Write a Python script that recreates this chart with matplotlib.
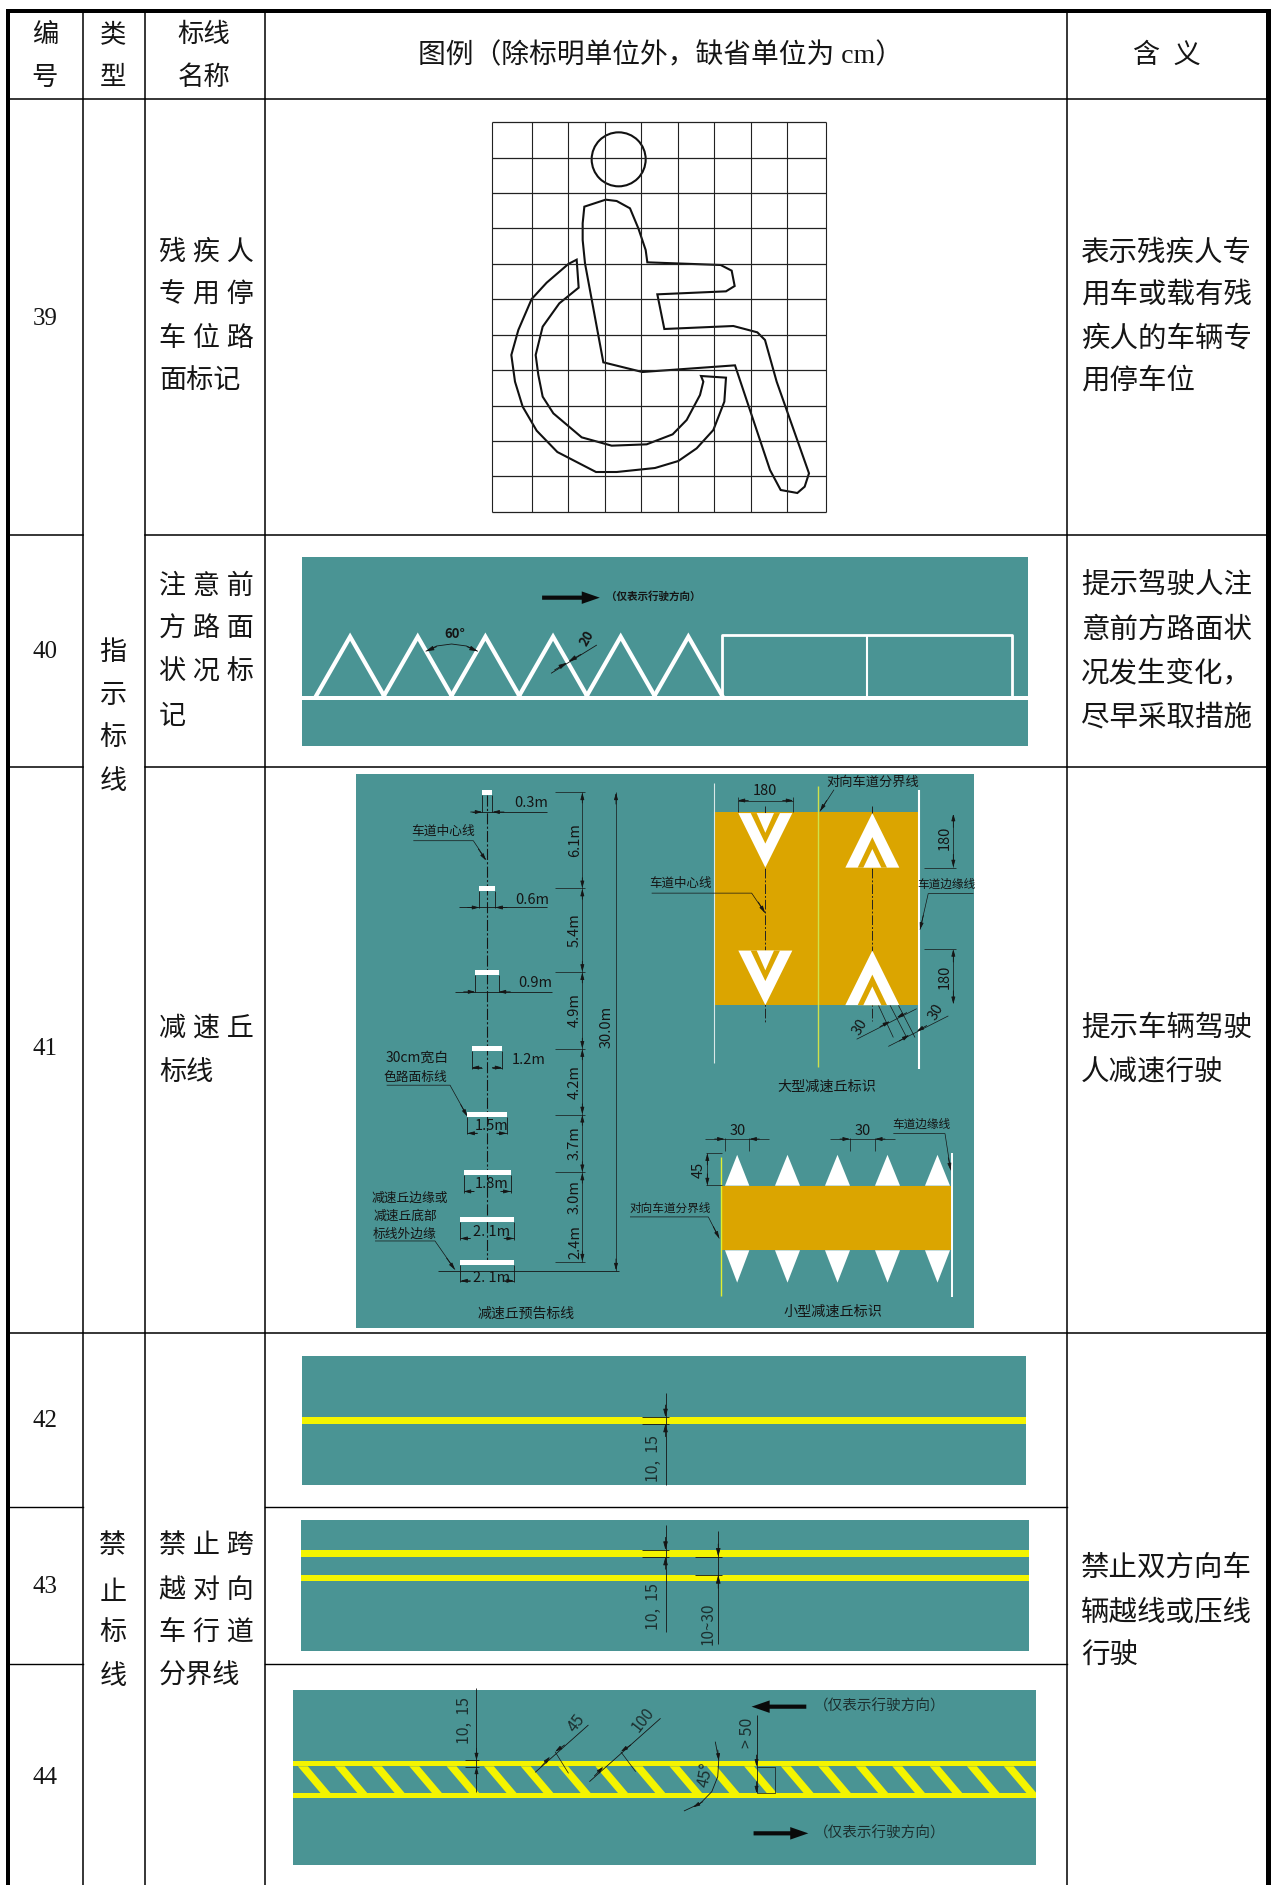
import matplotlib
matplotlib.use('Agg')
import matplotlib.pyplot as plt
from matplotlib.patches import Polygon, Rectangle, Circle

plt.rcParams['font.family'] = ['Liberation Serif', 'Noto Sans CJK SC', 'DejaVu Sans']
DRAW_FONT = ['Noto Sans CJK SC', 'DejaVu Sans']
NUM_FONT = ['Liberation Serif']

W, H = 1271, 1885
TEAL = '#4A9494'
ORANGE = '#DBA500'
YELLOW = '#F4F400'
INK = '#151515'

# table text
row_numbers = ['39', '40', '41', '42', '43', '44']
row_number_y = [319, 652, 1049, 1421, 1587, 1778]
header_cols = [(45, ['编', '号']), (113, ['类', '型']), (204, ['标线', '名称'])]
header_legend = '图例（除标明单位外，缺省单位为 cm）'
header_meaning = '含  义'
type_groups = [(['指', '示', '标', '线'], [653, 696, 738, 782]),
               (['禁', '止', '标', '线'], [1546, 1593, 1633, 1677])]
name_lines = [('残 疾 人', 253), ('专 用 停', 295), ('车 位 路', 339), ('面标记', 381),
              ('注 意 前', 587), ('方 路 面', 630), ('状 况 标', 673), ('记', 717),
              ('减 速 丘', 1029), ('标线', 1073),
              ('禁 止 跨', 1546), ('越 对 向', 1591), ('车 行 道', 1633), ('分界线', 1677)]
meaning_lines = [('表示残疾人专', 253), ('用车或载有残', 295), ('疾人的车辆专', 339), ('用停车位', 381),
                 ('提示驾驶人注', 586), ('意前方路面状', 630), ('况发生变化，', 674), ('尽早采取措施', 718),
                 ('提示车辆驾驶', 1029), ('人减速行驶', 1073),
                 ('禁止双方向车', 1568), ('辆越线或压线', 1613), ('行驶', 1656)]

# table rules
col_x = [82.5, 144.5, 264.5, 1066.5]
row_y = [98.5, 535, 767, 1333, 1507, 1664]

# row 39 symbol
grid_x = [66, 185, 295, 405, 514, 623, 733, 842, 952, 1069]
grid_y = [67, 173, 279, 385, 491, 598, 704, 810, 917, 1023, 1129, 1236]
body_outline = [(343, 320), (407, 299), (440, 303), (480, 325), (505, 385), (527, 450), (532, 487),
                (752, 495), (785, 512), (794, 558), (768, 574), (562, 583), (583, 687), (790, 678),
                (862, 697), (885, 720), (920, 845), (1017, 1120), (1004, 1160), (982, 1179),
                (932, 1170), (900, 1110), (795, 796), (517, 816), (400, 787), (345, 490),
                (338, 420), (338, 370)]
wheel_outline = [(320, 479), (295, 492), (230, 548), (185, 597), (145, 690), (124, 765), (135, 845),
                 (158, 920), (200, 992), (262, 1056), (378, 1116), (440, 1116), (555, 1104),
                 (625, 1083), (680, 1045), (730, 990), (763, 905), (768, 833), (693, 828),
                 (700, 845), (690, 885), (650, 960), (608, 1003), (530, 1033), (425, 1037),
                 (335, 1012), (250, 940), (218, 890), (205, 825), (197, 765), (218, 680),
                 (268, 610), (326, 563)]

# row 40
tri_apex = [161, 297, 433, 569, 705, 841]
tri_base = [93, 229, 365, 501, 637, 773, 909]
box_x = [909, 1200, 1492]

# row 41, left drawing: (half-open bar extent, y)
bar_left = [397, 388, 376, 365, 352, 341, 331, 331]
bar_right = [427, 436, 446, 457, 470, 482, 492, 492]
bar_y = [63, 329, 564, 777, 960, 1122, 1253, 1371]
bar_labels = ['0.3m', '0.6m', '0.9m', '1.2m', '1.5m', '1.8m', '2. 1m', '2. 1m']
bar_label_xy = [(543, 93), (546, 361), (557, 594), (537, 808), (424, 993), (424, 1153), (424, 1286), (424, 1416)]
gap_tick_y = [62, 330, 563, 777, 960, 1121, 1370]
gap_labels = ['6.1m', '5.4m', '4.9m', '4.2m', '3.7m', '3.0m', '2.4m']
gap_label_y = [195, 447, 668, 870, 1040, 1190, 1315]
total_label = '30.0m'

# row 41, right drawing
small_tri_left = [285, 435, 585, 735, 885]
small_tri_right = [358, 510, 660, 810, 960]

# rows 42 to 44
dim_single = '10,  15'
dim_gap = '10~30'
stripe_top = [46, 120, 195, 270, 345, 420, 494, 569, 644, 719, 793, 868, 943, 1017, 1092, 1167, 1241, 1316, 1391, 1465]
direction_note = '（仅表示行驶方向）'


fig = plt.figure(figsize=(W / 100, H / 100), dpi=100)
ax = fig.add_axes([0, 0, 1, 1])
ax.set_xlim(0, W)
ax.set_ylim(H, 0)
ax.axis('off')


def sub_axes(x, y, w, h, xspan, yspan):
    # overlay axes whose data units are the ones the drawing was measured in
    a = fig.add_axes([x / W, 1 - (y + h) / H, w / W, h / H])
    a.set_xlim(0, xspan)
    a.set_ylim(yspan, 0)
    a.axis('off')
    return a


def label(a, x, y, s, size=9.5, rot=0, color=INK, bold=False):
    a.text(x, y, s, fontsize=size, rotation=rot, ha='center', va='center', color=color,
           family=DRAW_FONT, fontweight='bold' if bold else 'normal', rotation_mode='anchor')


def seg(a, xs, ys, lw=0.6, color=INK, **kw):
    a.plot(xs, ys, color=color, lw=lw, solid_capstyle='butt', **kw)


def head(a, tip, tail, scale=6):
    a.annotate('', xy=tip, xytext=tail,
               arrowprops=dict(arrowstyle='-|>,head_width=0.22,head_length=0.8', color=INK, lw=0.6,
                               mutation_scale=scale, shrinkA=0, shrinkB=0))


def block_arrow(a, tip, tail):
    a.annotate('', xy=tip, xytext=tail,
               arrowprops=dict(width=3, headwidth=9, headlength=13, color='#0a0a0a', shrink=0, lw=0))


# table frame
ax.add_patch(Rectangle((6, 8.5), W - 6, 4, color='black', lw=0))
ax.add_patch(Rectangle((6, 8.5), 4, H, color='black', lw=0))
ax.add_patch(Rectangle((1265.5, 8.5), 6, H, color='black', lw=0))
for x in col_x:
    ax.plot([x, x], [12, H], color='black', lw=1.1)
ax.plot([10, 1266], [row_y[0]] * 2, color='black', lw=1.1)
for y in row_y[1:3]:
    ax.plot([10, col_x[0]], [y, y], color='black', lw=1.1)
    ax.plot([col_x[1], 1266], [y, y], color='black', lw=1.1)
ax.plot([10, 1266], [row_y[3]] * 2, color='black', lw=1.1)
for y in row_y[4:]:
    ax.plot([10, col_x[0]], [y, y], color='black', lw=1.0)
    ax.plot([col_x[2], col_x[3]], [y, y], color='black', lw=1.0)

# table text
for x, chars in header_cols:
    for s, y in zip(chars, [35, 78]):
        ax.text(x, y, s, fontsize=19, ha='center', va='center', color=INK)
ax.text(660, 56, header_legend, fontsize=20, ha='center', va='center', color=INK)
ax.text(1167, 56, header_meaning, fontsize=19.5, ha='center', va='center', color=INK)
for s, y in zip(row_numbers, row_number_y):
    ax.text(45, y, s, fontsize=18, ha='center', va='center', color=INK, family=NUM_FONT)
for chars, ys in type_groups:
    for s, y in zip(chars, ys):
        ax.text(113, y, s, fontsize=19.5, ha='center', va='center', color=INK)
for s, y in name_lines:
    ax.text(159, y, s, fontsize=19.5, ha='left', va='center', color=INK)
for s, y in meaning_lines:
    ax.text(1081, y, s, fontsize=20.5, ha='left', va='center', color=INK)

# row 39
a = sub_axes(470, 100, 380, 440, 1140, 1320)
for gx in grid_x:
    seg(a, [gx, gx], [grid_y[0], grid_y[-1]], lw=0.8, color='#222222')
for gy in grid_y:
    seg(a, [grid_x[0], grid_x[-1]], [gy, gy], lw=0.9, color='#222222')
a.add_patch(Circle((446, 178), 81, fill=False, ec='#111111', lw=1.5))
a.add_patch(Polygon(body_outline, closed=True, fill=False, ec='#111111', lw=1.5))
a.add_patch(Polygon(wheel_outline, closed=True, fill=False, ec='#111111', lw=1.5))

# row 40
a = sub_axes(270, 530, 780, 230, 1568, 690)
a.add_patch(Rectangle((64, 81), 1460, 567, color=TEAL, lw=0))
a.add_patch(Rectangle((64, 497), 1460, 13, color='white', lw=0))
apex_y, base_y = 320, 497
for i, ax_ in enumerate(tri_apex):
    a.plot([tri_base[i], ax_, tri_base[i + 1]], [base_y, apex_y, base_y], color='white', lw=3,
           solid_joinstyle='miter')
seg(a, [box_x[0], box_x[0], box_x[2], box_x[2]], [base_y, 314, 314, base_y], lw=2, color='white')
seg(a, [box_x[1], box_x[1]], [314, base_y], lw=1.5, color='white')
block_arrow(a, (663, 203), (547, 203))
label(a, 770, 200, direction_note, size=7.6, bold=True)
arc_x = [313, 335, 365, 395, 418]
arc_y = [364, 348, 342, 348, 364]
seg(a, arc_x, arc_y, lw=0.6)
head(a, (313, 364), (335, 350))
head(a, (418, 364), (396, 350))
label(a, 371, 311, '60°', size=9.5, bold=True)
seg(a, [565, 657], [430, 345], lw=0.6)
head(a, (597, 398), (572, 420))
head(a, (600, 395), (625, 373))
label(a, 637, 324, '20', size=9.5, rot=60, bold=True)

# row 41
ax.add_patch(Rectangle((355.5, 774), 618.5, 554, color=TEAL, lw=0))

a = sub_axes(350, 770, 300, 560, 900, 1560)
seg(a, [411, 411], [70, 1371], lw=0.8, ls=(0, (10, 2, 2, 2)))
for left, right, y in zip(bar_left, bar_right, bar_y):
    a.add_patch(Rectangle((left, y - 7), right - left, 14, color='white', lw=0, zorder=3))
    seg(a, [left, left], [y + 7, y + 55], lw=0.6)
    seg(a, [right, right], [y + 7, y + 55], lw=0.6)
# dimension arrows under each bar
for i, (left, right, y) in enumerate(zip(bar_left, bar_right, bar_y)):
    yy = y + (54 if i < 3 else 52)
    if i < 3:
        end = 590 if i < 2 else 606
        seg(a, [left - 60 if i else left - 32, end], [yy, yy], lw=0.6)
        head(a, (left, yy), (left - 35, yy), 5)
        head(a, (right, yy), (right + 35, yy), 5)
    else:
        seg(a, [left, left + 30], [yy, yy], lw=0.6)
        seg(a, [right - 30, right], [yy, yy], lw=0.6)
        head(a, (left, yy), (left + 30, yy), 5)
        head(a, (right, yy), (right - 30, yy), 5)
for s, (x, y) in zip(bar_labels, bar_label_xy):
    label(a, x, y, s, size=10.5)
for y in gap_tick_y:
    seg(a, [615, 705], [y, y], lw=0.5)
seg(a, [697, 697], [62, 1370], lw=0.5)
for y in gap_tick_y:
    if y > 62:
        head(a, (697, y - 1), (697, y - 30), 5)
    if y < 1370:
        head(a, (697, y + 1), (697, y + 30), 5)
for s, y in zip(gap_labels, gap_label_y):
    label(a, 675, y, s, size=10.5, rot=90)
seg(a, [798, 798], [62, 1395], lw=0.5)
head(a, (798, 63), (798, 95), 5)
head(a, (798, 1394), (798, 1362), 5)
seg(a, [265, 808], [1395, 1395], lw=0.6)
label(a, 770, 715, total_label, size=10.5, rot=90)
# leaders on the left
label(a, 280, 170, '车道中心线', size=9.2)
seg(a, [190, 370, 408], [197, 197, 250], lw=0.5)
head(a, (408, 252), (385, 220), 5)
label(a, 202, 802, '30cm宽白', size=10)
label(a, 197, 857, '色路面标线', size=9.2)
seg(a, [110, 300, 352], [878, 878, 965], lw=0.5)
head(a, (352, 965), (332, 932), 5)
label(a, 180, 1192, '减速丘边缘或', size=9.2)
label(a, 165, 1243, '减速丘底部', size=9.2)
label(a, 165, 1292, '标线外边缘', size=9.2)
seg(a, [75, 255, 315], [1312, 1312, 1392], lw=0.5)
head(a, (315, 1392), (290, 1360), 5)
label(a, 528, 1515, '减速丘预告标线', size=10)

a = sub_axes(630, 770, 350, 560, 1050, 1560)
a.add_patch(Rectangle((253, 118), 613, 537, color=ORANGE, lw=0))
seg(a, [252, 252], [35, 815], lw=0.8, color='#D9E8E8')
seg(a, [563, 563], [45, 828], lw=1.0, color='#CFE24A')
seg(a, [866, 866], [55, 833], lw=1.5, color='white')
seg(a, [406, 406], [100, 705], lw=0.7, ls=(0, (10, 2, 2, 2)), color='#222222')
seg(a, [727, 727], [100, 700], lw=0.7, ls=(0, (10, 2, 2, 2)), color='#222222')
for cx, top in [(406, 120), (406, 503)]:
    a.add_patch(Polygon([(cx - 81, top), (cx + 81, top), (cx, top + 152)], color='white', lw=0, zorder=3))
    a.add_patch(Polygon([(cx - 44, top), (cx + 44, top), (cx, top + 85)], color=ORANGE, lw=0, zorder=3))
    a.add_patch(Polygon([(cx - 26, top), (cx + 26, top), (cx, top + 55)], color='white', lw=0, zorder=3))
for cx, bot in [(727, 272), (727, 655)]:
    a.add_patch(Polygon([(cx - 81, bot), (cx + 81, bot), (cx, bot - 152)], color='white', lw=0, zorder=3))
    a.add_patch(Polygon([(cx - 44, bot), (cx + 44, bot), (cx, bot - 85)], color=ORANGE, lw=0, zorder=3))
    a.add_patch(Polygon([(cx - 27, bot), (cx + 27, bot), (cx, bot - 52)], color='white', lw=0, zorder=3))
seg(a, [323, 323], [75, 118], lw=0.5)
seg(a, [490, 490], [75, 118], lw=0.5)
seg(a, [323, 490], [85, 85], lw=0.5)
head(a, (323, 85), (355, 85), 5)
head(a, (490, 85), (458, 85), 5)
label(a, 405, 58, '180', size=10.5)
seg(a, [882, 978], [272, 272], lw=0.5)
seg(a, [882, 978], [498, 498], lw=0.5)
seg(a, [970, 970], [125, 270], lw=0.5)
seg(a, [970, 970], [505, 650], lw=0.5)
for p, q in [((970, 122), (970, 160)), ((970, 271), (970, 235)), ((970, 499), (970, 535)), ((970, 652), (970, 615))]:
    head(a, p, q, 5)
label(a, 945, 190, '180', size=10.5, rot=90)
label(a, 945, 575, '180', size=10.5, rot=90)
seg(a, [680, 860], [750, 665], lw=0.5)
seg(a, [775, 955], [770, 685], lw=0.5)
for x0, x1, y0, y1 in [(745, 790, 655, 745), (780, 830, 655, 745), (805, 855, 655, 745)]:
    seg(a, [x0, x1], [y0, y1], lw=0.5)
head(a, (780, 700), (750, 715), 5)
head(a, (800, 690), (830, 676), 5)
head(a, (838, 738), (808, 755), 5)
head(a, (860, 728), (890, 712), 5)
label(a, 690, 715, '30', size=10.5, rot=60)
label(a, 920, 675, '30', size=10.5, rot=60)
label(a, 152, 315, '车道中心线', size=9)
seg(a, [65, 365, 405], [343, 343, 398], lw=0.5)
head(a, (405, 398), (385, 368), 5)
label(a, 728, 35, '对向车道分界线', size=9.5)
seg(a, [612, 570], [55, 115], lw=0.5)
head(a, (570, 115), (590, 85), 5)
label(a, 950, 318, '车道边缘线', size=8.4)
seg(a, [895, 1030], [343, 343], lw=0.5)
seg(a, [895, 870], [343, 445], lw=0.5)
head(a, (870, 445), (880, 405), 5)
label(a, 590, 882, '大型减速丘标识', size=10.2)
a.add_patch(Rectangle((272, 1160), 691, 176, color=ORANGE, lw=0))
seg(a, [272, 272], [1078, 1465], lw=1.0, color='#E2EE30')
seg(a, [965, 965], [1068, 1467], lw=1.4, color='white')
for left, right in zip(small_tri_left, small_tri_right):
    mid = (left + right) / 2
    a.add_patch(Polygon([(left, 1158), (right, 1158), (mid, 1072)], color='white', lw=0))
    a.add_patch(Polygon([(left, 1338), (right, 1338), (mid, 1428)], color='white', lw=0))
for x0, x1, text_x in [(284, 358, 322), (660, 735, 697)]:
    seg(a, [x0, x0], [1025, 1060], lw=0.5)
    seg(a, [x1, x1], [1025, 1060], lw=0.5)
    seg(a, [x0 - 60, x1 + 60], [1028, 1028], lw=0.5)
    head(a, (x0, 1028), (x0 - 30, 1028), 5)
    head(a, (x1, 1028), (x1 + 30, 1028), 5)
    label(a, text_x, 1005, '30', size=10.5)
seg(a, [228, 275], [1068, 1068], lw=0.5)
seg(a, [228, 275], [1157, 1157], lw=0.5)
seg(a, [232, 232], [1068, 1157], lw=0.5)
head(a, (232, 1068), (232, 1100), 5)
head(a, (232, 1157), (232, 1125), 5)
label(a, 205, 1115, '45', size=10.5, rot=90)
label(a, 873, 988, '车道边缘线', size=8.4)
seg(a, [790, 945, 962], [1013, 1013, 1115], lw=0.5)
head(a, (962, 1115), (955, 1080), 5)
label(a, 120, 1220, '对向车道分界线', size=8.4)
seg(a, [0, 235, 268], [1245, 1245, 1305], lw=0.5)
head(a, (268, 1305), (250, 1272), 5)
label(a, 610, 1510, '小型减速丘标识', size=10.2)

# rows 42 and 43
a = sub_axes(280, 1340, 780, 320, 1568, 960)
a.add_patch(Rectangle((45, 48), 1455, 386, color=TEAL, lw=0))
a.add_patch(Rectangle((45, 232), 1455, 19, color=YELLOW, lw=0))
seg(a, [775, 775], [158, 434], lw=0.6)
seg(a, [728, 782], [232, 232], lw=0.6)
seg(a, [728, 782], [251, 251], lw=0.6)
head(a, (775, 232), (775, 195), 6)
head(a, (775, 251), (775, 290), 6)
label(a, 750, 355, dim_single, size=11.5, rot=90, color='#1c2f2f')
a.add_patch(Rectangle((43, 541), 1462, 391, color=TEAL, lw=0))
a.add_patch(Rectangle((43, 630), 1462, 20, color=YELLOW, lw=0))
a.add_patch(Rectangle((43, 705), 1462, 19, color=YELLOW, lw=0))
seg(a, [775, 775], [555, 875], lw=0.6)
seg(a, [728, 782], [630, 630], lw=0.6)
seg(a, [728, 782], [650, 650], lw=0.6)
head(a, (775, 630), (775, 592), 6)
head(a, (775, 650), (775, 688), 6)
label(a, 750, 800, dim_single, size=11.5, rot=90, color='#1c2f2f')
seg(a, [881, 881], [572, 913], lw=0.6)
seg(a, [835, 888], [650, 650], lw=0.6)
seg(a, [835, 888], [705, 705], lw=0.6)
head(a, (881, 650), (881, 612), 6)
head(a, (881, 705), (881, 745), 6)
label(a, 860, 850, dim_gap, size=11, rot=90, color='#1c2f2f')

# row 44
a = sub_axes(280, 1670, 780, 215, 1568, 645)
panel = Rectangle((27, 60), 1493, 525, color=TEAL, lw=0)
a.add_patch(panel)
for top in stripe_top:
    stripe = Polygon([(top - 10, 289), (top + 10, 289), (top + 56, 370), (top + 36, 370)], color=YELLOW, lw=0)
    a.add_patch(stripe)
    stripe.set_clip_path(panel)
a.add_patch(Rectangle((27, 273), 1493, 16, color=YELLOW, lw=0))
a.add_patch(Rectangle((27, 370), 1493, 15, color=YELLOW, lw=0))
block_arrow(a, (948, 110), (1058, 110))
block_arrow(a, (1062, 490), (952, 490))
label(a, 1205, 108, direction_note, size=10.5, color='#1c2f2f')
label(a, 1205, 490, direction_note, size=10.5, color='#1c2f2f')
seg(a, [395, 395], [55, 365], lw=0.6)
seg(a, [372, 400], [271, 271], lw=0.6)
seg(a, [372, 400], [290, 290], lw=0.6)
head(a, (395, 271), (395, 235), 5)
head(a, (395, 290), (395, 325), 5)
label(a, 370, 150, dim_single, size=11.5, rot=90, color='#1c2f2f')
seg(a, [513, 620], [307, 165], lw=0.6)
seg(a, [553, 580], [245, 310], lw=0.5)
head(a, (543, 260), (525, 290), 5)
head(a, (553, 245), (572, 225), 5)
label(a, 597, 160, '45', size=11.5, rot=52, color='#1c2f2f')
seg(a, [622, 765], [335, 145], lw=0.6)
seg(a, [685, 715], [245, 305], lw=0.5)
head(a, (650, 290), (632, 318), 5)
head(a, (685, 245), (705, 225), 5)
label(a, 730, 150, '100', size=11.5, rot=52, color='#1c2f2f')
seg(a, [875, 882, 880, 868, 845, 812], [215, 270, 320, 365, 400, 423], lw=0.6)
head(a, (882, 272), (880, 240), 5)
head(a, (830, 412), (850, 395), 5)
label(a, 855, 315, '45°', size=12, rot=78, color='#1c2f2f')
seg(a, [958, 958], [135, 370], lw=0.6)
seg(a, [958, 995, 995, 958], [290, 290, 370, 370], lw=0.5)
head(a, (958, 290), (958, 255), 5)
head(a, (958, 370), (958, 335), 5)
label(a, 940, 190, '> 50', size=11.5, rot=90, color='#1c2f2f')

fig.savefig('out.png', dpi=100)
